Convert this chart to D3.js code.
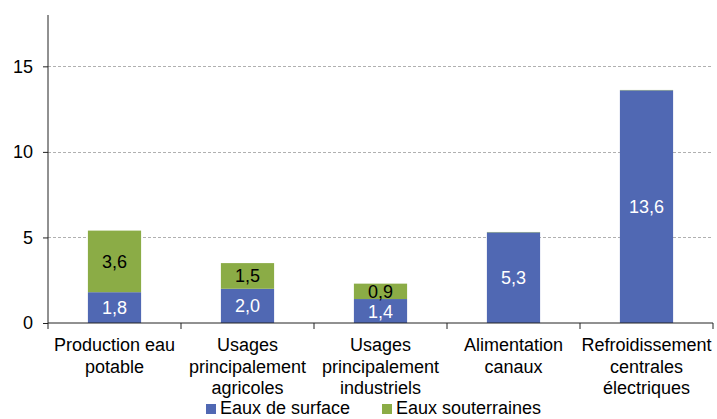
<!DOCTYPE html>
<html>
<head>
<meta charset="utf-8">
<script src="https://cdn.jsdelivr.net/npm/d3@7"></script>
<style>
  body { margin: 0; background: #fff; }
  text { font-family: "Liberation Sans", Arial, sans-serif; }
</style>
</head>
<body>
<script>
// Prélèvements d'eau par usage : eaux de surface / eaux souterraines

var categories = [
  ["Production eau", "potable"],
  ["Usages", "principalement", "agricoles"],
  ["Usages", "principalement", "industriels"],
  ["Alimentation", "canaux"],
  ["Refroidissement", "centrales", "électriques"]
];
var surface = [1.8, 2.0, 1.4, 5.3, 13.6];
var souterraines = [3.6, 1.5, 0.9, 0.02, 0.02];
var seriesNames = ["Eaux de surface", "Eaux souterraines"];
var yTicks = [0, 5, 10, 15];

var colors = ["#5068b3", "#8bac46"];

var width = 717, height = 419;
var margin = { left: 48, right: 4, top: 15, bottom: 96 };

var svg = d3.select("body")
  .append("svg")
  .attr("width", width)
  .attr("height", height);

var x = d3.scaleBand()
  .domain(d3.range(categories.length))
  .range([margin.left, width - margin.right])
  .paddingInner(0.6)
  .paddingOuter(0.3);

var y = d3.scaleLinear()
  .domain([0, 18])
  .range([height - margin.bottom, margin.top]);

var step = x.step();
var x0 = margin.left, x1 = width - margin.right;

// grid
svg.selectAll(".grid")
  .data(yTicks.filter(function (d) { return d > 0; }))
  .enter()
  .append("line")
  .attr("x1", x0)
  .attr("x2", x1)
  .attr("y1", function (d) { return Math.round(y(d)) + 0.5; })
  .attr("y2", function (d) { return Math.round(y(d)) + 0.5; })
  .style("stroke", "#b0b0b0")
  .style("stroke-dasharray", "3,2");

// stacked bars
var stacked = categories.map(function (c, i) {
  return [
    { i: i, k: 0, y0: 0, y1: surface[i], v: surface[i] },
    { i: i, k: 1, y0: surface[i], y1: surface[i] + souterraines[i], v: souterraines[i] }
  ];
});
var segs = [].concat.apply([], stacked);

svg.selectAll(".seg")
  .data(segs)
  .enter()
  .append("rect")
  .attr("x", function (d) { return x(d.i); })
  .attr("width", x.bandwidth())
  .attr("y", function (d) { return y(d.y1); })
  .attr("height", function (d) { return y(d.y0) - y(d.y1); })
  .style("fill", function (d) { return colors[d.k]; });

// value labels
svg.selectAll(".lbl")
  .data(segs.filter(function (d) { return d.v >= 0.5; }))
  .enter()
  .append("text")
  .attr("x", function (d) { return x(d.i) + x.bandwidth() / 2; })
  .attr("y", function (d) { return (y(d.y0) + y(d.y1)) / 2; })
  .attr("dy", "0.36em")
  .attr("text-anchor", "middle")
  .style("font-size", "18px")
  .style("fill", function (d) { return d.k === 0 ? "#fff" : "#000"; })
  .text(function (d) { return d3.format(".1f")(d.v).replace(".", ","); });

// y axis
var yAxis = svg.append("g")
  .attr("transform", "translate(" + x0 + ",0)")
  .call(d3.axisLeft(y).tickValues(yTicks).tickSize(5).tickPadding(10));
yAxis.select(".domain").attr("d", "M0," + y(0) + "V" + margin.top).style("stroke", "#222");
yAxis.selectAll(".tick line").style("stroke", "#222");
yAxis.selectAll(".tick text")
  .style("font-size", "18px")
  .style("font-family", "Liberation Sans, Arial, sans-serif")
  .style("fill", "#000");

// x axis line and ticks between categories
svg.append("line")
  .attr("x1", x0).attr("x2", x1)
  .attr("y1", y(0)).attr("y2", y(0))
  .style("stroke", "#222");

svg.selectAll(".xtick")
  .data(d3.range(categories.length + 1))
  .enter()
  .append("line")
  .attr("x1", function (d) { return x0 + d * step; })
  .attr("x2", function (d) { return x0 + d * step; })
  .attr("y1", y(0))
  .attr("y2", y(0) + 6)
  .style("stroke", "#222");

// category labels
var cat = svg.selectAll(".cat")
  .data(categories)
  .enter()
  .append("text")
  .attr("text-anchor", "middle")
  .style("font-size", "18px")
  .attr("transform", function (d, i) {
    return "translate(" + (x(i) + x.bandwidth() / 2) + "," + (y(0) + 28) + ")";
  });
cat.selectAll("tspan")
  .data(function (d) { return d; })
  .enter()
  .append("tspan")
  .attr("x", 0)
  .attr("y", function (d, j) { return j * 21.5; })
  .text(function (d) { return d; });

// legend (kept just inside the bottom edge)
var legendX = [206, 382];
var leg = svg.selectAll(".leg")
  .data(seriesNames)
  .enter()
  .append("g")
  .attr("transform", function (d, i) { return "translate(" + legendX[i] + ",404)"; });
leg.append("rect")
  .attr("width", 10)
  .attr("height", 10)
  .style("fill", function (d, i) { return colors[i]; });
leg.append("text")
  .attr("x", 14)
  .attr("y", 10)
  .style("font-size", "18px")
  .text(function (d) { return d; });
</script>
</body>
</html>
